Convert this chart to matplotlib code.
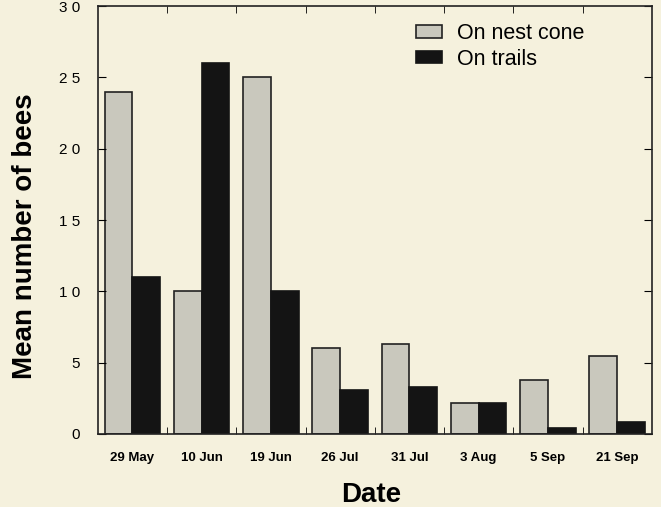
import numpy as np
import matplotlib
matplotlib.use("Agg")
import matplotlib.pyplot as plt

# data
dates = ["29 May", "10 Jun", "19 Jun", "26 Jul", "31 Jul", "3 Aug", "5 Sep", "21 Sep"]
nest_cone = [24, 10, 25, 6, 6.3, 2.2, 3.8, 5.5]
trails = [11, 26, 10, 3.1, 3.3, 2.2, 0.4, 0.85]

bg = "#f5f1dd"
plt.rcParams['font.family'] = ['Liberation Sans', 'DejaVu Sans']

fig = plt.figure(figsize=(6.61, 5.07), dpi=100, facecolor=bg)
ax = fig.add_axes([0.148, 0.144, 0.838, 0.844], facecolor=bg)

x = np.arange(len(dates))
w = 0.4
ax.bar(x - w / 2, nest_cone, w, color="#c9c8bd", edgecolor="#222222", linewidth=1.2, label="On nest cone")
ax.bar(x + w / 2, trails, w, color="#141414", edgecolor="#141414", linewidth=1.2, label="On trails")

ax.set_xlim(-0.5, len(dates) - 0.5)
ax.set_ylim(0, 30)
ax.set_yticks(range(0, 31, 5))
ax.set_yticklabels([" ".join(str(v)) for v in range(0, 31, 5)], fontsize=11)
ax.set_xticks(x)
ax.set_xticklabels(dates, fontsize=9.5, fontweight="bold")
ax.set_xticks(np.arange(0.5, len(dates) - 0.5, 1), minor=True)
ax.tick_params(axis="x", which="major", length=0, pad=13)
ax.tick_params(axis="x", which="minor", direction="in", length=5, top=True, bottom=True)
ax.tick_params(axis="y", direction="in", length=6, right=True, left=True, pad=13)

for s in ax.spines.values():
    s.set_linewidth(1.2)
    s.set_color("#222222")

ax.set_xlabel("Date", fontsize=20, fontweight="bold")
ax.set_ylabel("Mean number of bees", fontsize=20, fontweight="bold")
ax.xaxis.set_label_coords(0.493, -0.112)
ax.yaxis.set_label_coords(-0.108, 0.463)

ax.legend(loc="upper right", bbox_to_anchor=(0.914, 1.005), frameon=False, fontsize=15.5,
          handlelength=1.2, handleheight=0.55, handletextpad=0.7, labelspacing=0.2)

fig.savefig("out.png", dpi=100, facecolor=bg)
